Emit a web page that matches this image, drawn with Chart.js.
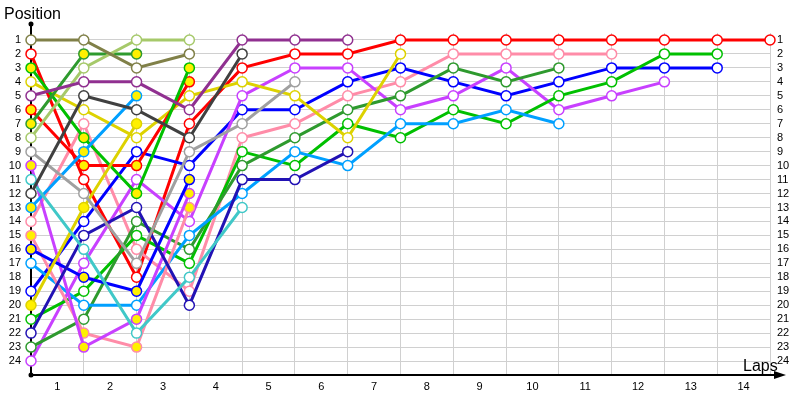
<!DOCTYPE html>
<html>
<head>
<meta charset="utf-8">
<script src="https://cdn.jsdelivr.net/npm/chart.js@4/dist/chart.umd.min.js"></script>
<style>
    html, body { margin: 0; padding: 0; background: #fff; }
    #wrap { width: 800px; height: 400px; }
</style>
</head>
<body>
<div id="wrap"><canvas id="lapChart"></canvas></div>
<script>
    // race position of each car per lap (index 0 = starting grid)
    const carOlive      = [1, 1, 3, 2];
    const carRed        = [2, 11, 18, 7, 3, 2, 2, 1, 1, 1, 1, 1, 1, 1, 1];
    const carGreen      = [3, 8, 12, 3];
    const carYellow     = [4, 6, 8, 5, 4, 5, 8, 2];
    const carPurple     = [5, 4, 4, 6, 1, 1, 1];
    const carRed2       = [6, 10, 10, 4];
    const carDarkGreen  = [7, 2, 2];
    const carLightGreen = [8, 3, 1, 1];
    const carGray       = [9, 12, 17, 9, 7, 4];
    const carViolet2    = [10, 23, 21, 12];
    const carTurquoise  = [11, 16, 22, 18, 13];
    const carDarkGray   = [12, 5, 6, 8, 2];
    const carSky        = [13, 9, 5];
    const carPink       = [14, 7, 16, 19, 8, 7, 5, 4, 2, 2, 2, 2];
    const carPink2      = [15, 22, 23, 13];
    const carBlue2      = [16, 18, 19, 11];
    const carSky2       = [17, 20, 20, 15, 12, 9, 10, 7, 7, 6, 7];
    const carBlue       = [19, 14, 9, 10, 6, 6, 4, 3, 4, 5, 4, 3, 3, 3];
    const carYellow2    = [20, 13, 7];
    const carGreen2     = [21, 19, 15, 17, 9, 10, 7, 8, 6, 7, 5, 4, 2, 2];
    const carNavy       = [22, 15, 13, 20, 11, 11, 9];
    const carDarkGreen2 = [23, 21, 14, 16, 10, 8, 6, 5, 3, 4, 3];
    const carViolet     = [24, 17, 11, 14, 5, 3, 3, 6, 5, 3, 6, 5, 4];

    const laps = [0, 1, 2, 3, 4, 5, 6, 7, 8, 9, 10, 11, 12, 13, 14];
    const lapLabels = ['1', '2', '3', '4', '5', '6', '7', '8', '9', '10', '11', '12', '13', '14'];
    const positions = [1, 2, 3, 4, 5, 6, 7, 8, 9, 10, 11, 12, 13, 14, 15, 16, 17, 18, 19, 20, 21, 22, 23, 24];

    // drawing order + colours (yellow marker = car out early)
    const cars = [
        [carPurple, '#903090', false],
        [carOlive, '#808048', false],
        [carLightGreen, '#a6c96a', false],
        [carDarkGray, '#404040', false],
        [carGray, '#a0a0a0', false],
        [carTurquoise, '#40c8c8', false],
        [carNavy, '#2212b4', false],
        [carDarkGreen, '#2e9a2e', true],
        [carSky, '#00a0ff', true],
        [carYellow2, '#ddd200', true],
        [carGreen, '#00c000', true],
        [carRed2, '#ff0000', true],
        [carBlue2, '#0000ff', true],
        [carViolet2, '#c840ff', true],
        [carPink2, '#ff8ca8', true],
        [carYellow, '#ddd200', false],
        [carSky2, '#00a0ff', false],
        [carDarkGreen2, '#2e9a2e', false],
        [carGreen2, '#00c000', false],
        [carViolet, '#c840ff', false],
        [carBlue, '#0000ff', false],
        [carPink, '#ff8ca8', false],
        [carRed, '#ff0000', false]
    ];

    const tickFont = { family: 'Liberation Sans', size: 11 };

    const axisDecor = {
        id: 'axisDecor',
        beforeDatasetsDraw(chart) {
            const ctx = chart.ctx;
            const x0 = chart.scales.xg.getPixelForValue(0);
            const yb = chart.chartArea.bottom;
            ctx.save();
            ctx.strokeStyle = '#000';
            ctx.fillStyle = '#000';
            ctx.lineWidth = 2;
            ctx.beginPath();
            ctx.moveTo(x0, 24);
            ctx.lineTo(x0, yb);
            ctx.lineTo(776, yb);
            ctx.stroke();
            ctx.beginPath();
            ctx.moveTo(786, yb);
            ctx.lineTo(774, yb - 4);
            ctx.lineTo(774, yb + 4);
            ctx.closePath();
            ctx.fill();
            ctx.beginPath();
            ctx.arc(x0, 24, 2.5, 0, Math.PI * 2);
            ctx.arc(x0, yb, 2.5, 0, Math.PI * 2);
            ctx.fill();
            ctx.restore();
        },
        afterDraw(chart) {
            const ctx = chart.ctx;
            ctx.save();
            ctx.fillStyle = '#000';
            ctx.font = '16px "Liberation Sans"';
            ctx.textBaseline = 'middle';
            ctx.textAlign = 'left';
            ctx.fillText('Position', 4, 15);
            ctx.fillText('Laps', 743, 367);
            ctx.restore();
        }
    };

    const ctx = document.getElementById('lapChart').getContext('2d');
    window.myLapChart = new Chart(ctx, {
        type: 'line',
        data: {
            datasets: cars.map(([pos, color, out]) => ({
                data: pos.map((p, i) => ({ x: laps[i], y: p })),
                borderColor: color,
                borderWidth: 3,
                pointRadius: 5,
                pointBorderWidth: 1.5,
                pointBorderColor: color,
                pointBackgroundColor: out ? '#fff000' : '#ffffff',
                tension: 0,
                clip: false
            }))
        },
        options: {
            responsive: true,
            maintainAspectRatio: false,
            animation: false,
            layout: { padding: { top: 33, left: 0, right: 0, bottom: 0 } },
            plugins: { legend: { display: false }, tooltip: { enabled: false } },
            scales: {
                x: {
                    type: 'linear', position: 'bottom', min: 0, max: 14,
                    afterBuildTicks: s => { s.ticks = lapLabels.map((l, i) => ({ value: i + 0.5 })); },
                    afterFit: s => { s.height = 25; },
                    ticks: { callback: (v, i) => lapLabels[i], font: tickFont, color: '#000', padding: 5, maxRotation: 0, autoSkip: false },
                    grid: { display: false, drawTicks: false },
                    border: { display: false }
                },
                xg: {
                    type: 'linear', position: 'bottom', min: 0, max: 14,
                    afterBuildTicks: s => { s.ticks = laps.map(v => ({ value: v })); },
                    afterFit: s => { s.height = 0; },
                    ticks: { display: false },
                    grid: { color: '#d0d0d0', lineWidth: 1, drawTicks: false },
                    border: { display: false }
                },
                y: {
                    type: 'linear', position: 'left', reverse: true, min: 0.5, max: 25,
                    afterBuildTicks: s => { s.ticks = positions.map(v => ({ value: v })); },
                    afterFit: s => { s.width = 31; },
                    ticks: { font: tickFont, color: '#000', padding: 10, autoSkip: false },
                    grid: { color: '#d0d0d0', lineWidth: 1, drawTicks: false },
                    border: { display: false }
                },
                y2: {
                    type: 'linear', position: 'right', reverse: true, min: 0.5, max: 25,
                    afterBuildTicks: s => { s.ticks = positions.map(v => ({ value: v })); },
                    afterFit: s => { s.width = 30; },
                    ticks: { font: tickFont, color: '#000', padding: 7, autoSkip: false },
                    grid: { display: false, drawTicks: false },
                    border: { display: false }
                }
            }
        },
        plugins: [axisDecor]
    });
</script>
</body>
</html>
